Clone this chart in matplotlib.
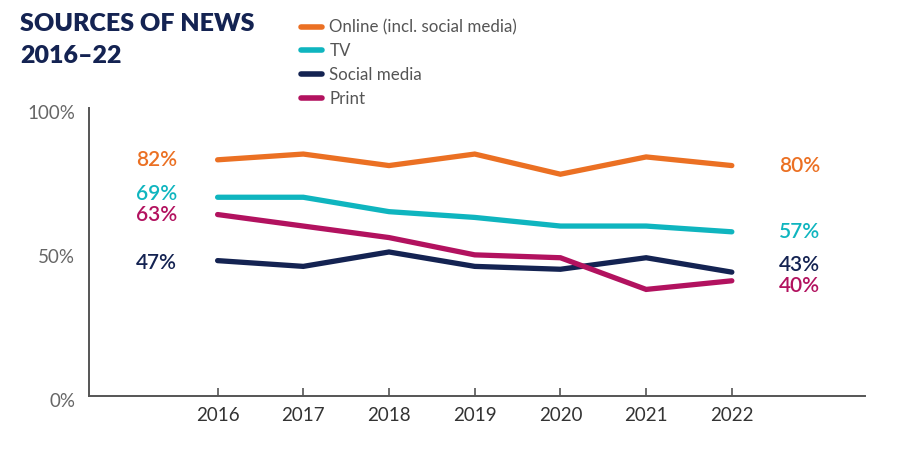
import matplotlib
matplotlib.use('Agg')
import matplotlib.pyplot as plt
import matplotlib.transforms as mtransforms

years = [2016, 2017, 2018, 2019, 2020, 2021, 2022]
online = [82, 84, 80, 84, 77, 83, 80]
tv = [69, 69, 64, 62, 59, 59, 57]
social = [47, 45, 50, 45, 44, 48, 43]
printed = [63, 59, 55, 49, 48, 37, 40]

series_names = ['Online (incl. social media)', 'TV', 'Social media', 'Print']
colors = ['#EB7023', '#0FB5BF', '#142352', '#B2125F']
# small vertical nudges (points) for end labels so they don't collide
left_nudge = [0, 2, -2, 0]
right_nudge = [0, 0, 5, -4]

plt.rcParams['font.family'] = ['Lato', 'DejaVu Sans']

fig = plt.figure(figsize=(9.04, 4.55), dpi=100)
ax = fig.add_axes([0.0985, 0.1297, 0.858, 0.633])

all_series = [online, tv, social, printed]
for name, vals, c in zip(series_names, all_series, colors):
    ax.plot(years, vals, color=c, lw=3.8, solid_capstyle='round',
            solid_joinstyle='miter', label=name)

for vals, c, ln, rn in zip(all_series, colors, left_nudge, right_nudge):
    ax.annotate(f'{vals[0]}%', (years[0], vals[0]), xytext=(-29, ln),
                textcoords='offset points', ha='right', va='center',
                color=c, fontsize=15, fontweight='semibold')
    ax.annotate(f'{vals[-1]}%', (years[-1], vals[-1]), xytext=(34, rn),
                textcoords='offset points', ha='left', va='center',
                color=c, fontsize=15, fontweight='semibold')

ax.set_xlim(2014.5, 2023.55)
ax.set_ylim(0, 100)
ax.set_xticks(years)
ax.set_yticks([0, 50, 100])
ax.set_yticklabels(['0%', '50%', '100%'])
for s in ['top', 'right']:
    ax.spines[s].set_visible(False)
for s in ['left', 'bottom']:
    ax.spines[s].set_color('#555555')
    ax.spines[s].set_linewidth(1.4)
ax.tick_params(axis='x', direction='in', length=6, width=1.2, color='#555555',
               labelsize=13.5, labelcolor='#333333', pad=8)
ax.tick_params(axis='y', length=0, labelsize=13.5, labelcolor='#666666', pad=10)
shift = mtransforms.ScaledTranslation(0, -4 / 100, fig.dpi_scale_trans)
for lbl in ax.get_yticklabels():
    lbl.set_transform(lbl.get_transform() + shift)

fig.text(0.022, 0.947, 'SOURCES OF NEWS', fontsize=18, fontweight='heavy',
         color='#142352', va='center')
fig.text(0.022, 0.877, '2016–22', fontsize=18, fontweight='heavy',
         color='#142352', va='center')

leg = fig.legend(loc='upper left', bbox_to_anchor=(0.326, 0.972), frameon=False,
                 fontsize=12.2, handlelength=1.2, handletextpad=0.45,
                 labelspacing=0.45, borderaxespad=0)
for t in leg.get_texts():
    t.set_color('#555555')
for h in leg.get_lines():
    h.set_linewidth(4)

fig.savefig('out.png', dpi=100)
